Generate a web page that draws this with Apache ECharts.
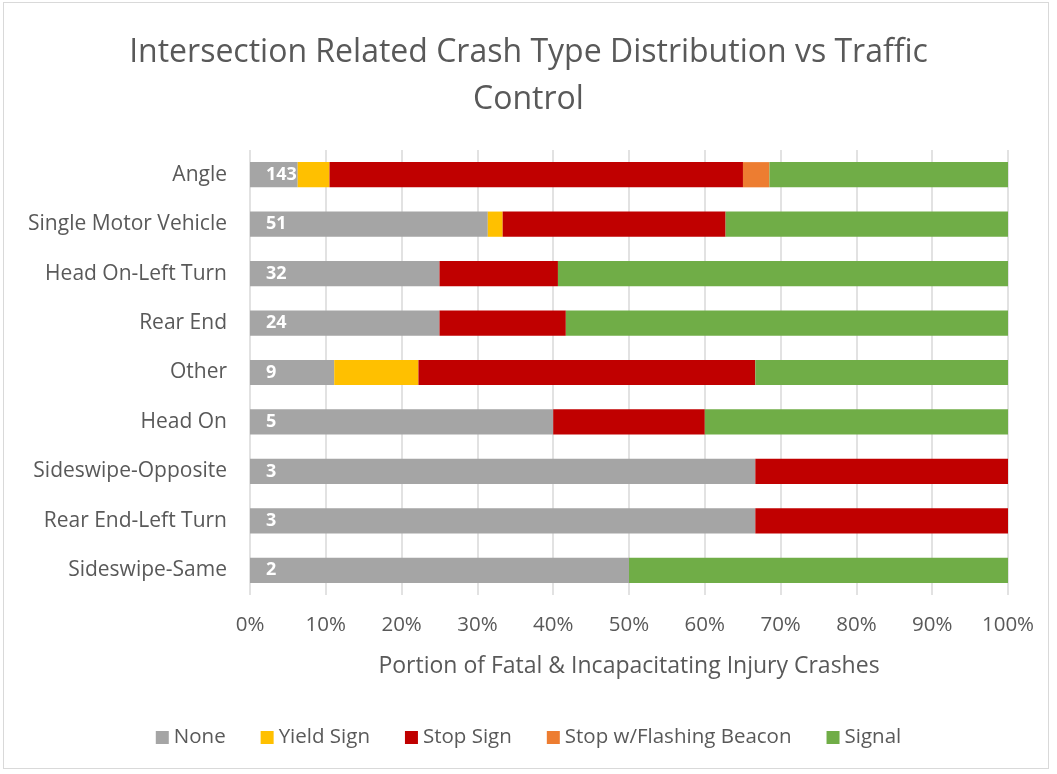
<!DOCTYPE html>
<html>
<head>
<meta charset="utf-8">
<script src="https://cdn.jsdelivr.net/npm/echarts@6/dist/echarts.min.js"></script>
<style>
  html, body { margin: 0; padding: 0; background: #fff; }
  #frame { position: absolute; left: 3px; top: 2px; width: 1046px; height: 767px; border: 1px solid #d9d9d9; box-sizing: border-box; }
  #chart { position: absolute; left: 0; top: 0; width: 1057px; height: 774px; }
</style>
</head>
<body>
<div id="frame"></div>
<div id="chart"></div>
<script>
// crash types (top to bottom)
const crashTypes = ['Angle', 'Single Motor Vehicle', 'Head On-Left Turn', 'Rear End', 'Other',
  'Head On', 'Sideswipe-Opposite', 'Rear End-Left Turn', 'Sideswipe-Same']

// crash counts by traffic control
const noneCounts = [9, 16, 8, 6, 1, 2, 2, 2, 1]
const yieldCounts = [6, 1, 0, 0, 1, 0, 0, 0, 0]
const stopCounts = [78, 15, 5, 4, 4, 1, 1, 1, 0]
const beaconCounts = [5, 0, 0, 0, 0, 0, 0, 0, 0]
const signalCounts = [45, 19, 19, 14, 3, 2, 0, 0, 1]

const xTicks = [0, 10, 20, 30, 40, 50, 60, 70, 80, 90, 100]

const totals = crashTypes.map((c, i) =>
  noneCounts[i] + yieldCounts[i] + stopCounts[i] + beaconCounts[i] + signalCounts[i])
const pct = arr => arr.map((v, i) => v / totals[i] * 100)

const font = '"Open Sans", sans-serif'
const textColor = '#595959'

const chart = echarts.init(document.getElementById('chart'))

function bar(name, counts, color, withLabel) {
  return {
    name: name,
    type: 'bar',
    stack: 'all',
    barCategoryGap: '49%',
    data: pct(counts),
    itemStyle: { color: color },
    label: withLabel ? {
      show: true,
      position: 'insideLeft',
      distance: 16,
      formatter: p => totals[p.dataIndex],
      color: '#fff',
      fontWeight: 'bold',
      fontSize: 18,
      fontFamily: font
    } : { show: false },
    emphasis: { disabled: true }
  }
}

chart.setOption({
  animation: false,
  title: {
    text: 'Intersection Related Crash Type Distribution vs Traffic\nControl',
    left: 'center',
    top: 24,
    padding: [5, 0, 5, 28],
    textStyle: {
      color: textColor,
      fontSize: 32,
      fontWeight: 'normal',
      fontFamily: font,
      lineHeight: 47
    }
  },
  legend: {
    bottom: 21,
    left: 'center',
    icon: 'rect',
    itemWidth: 13,
    itemHeight: 13,
    itemGap: 35,
    textStyle: { color: textColor, fontSize: 20.5, fontFamily: font }
  },
  grid: { left: 250, right: 49, top: 150, bottom: 179 },
  xAxis: {
    type: 'value',
    min: 0,
    max: 100,
    interval: 10,
    name: 'Portion of Fatal & Incapacitating Injury Crashes',
    nameLocation: 'middle',
    nameGap: 60,
    nameTextStyle: { color: textColor, fontSize: 23, fontFamily: font },
    axisLabel: {
      formatter: v => xTicks.includes(v) ? v + '%' : '',
      color: textColor,
      fontSize: 20.5,
      fontFamily: font,
      margin: 20
    },
    axisLine: { show: false },
    axisTick: { show: false },
    splitLine: { lineStyle: { color: '#d9d9d9', width: 1.5 } }
  },
  yAxis: {
    type: 'category',
    inverse: true,
    data: crashTypes,
    axisLabel: { color: textColor, fontSize: 21, fontFamily: font, margin: 23 },
    axisLine: { show: false },
    axisTick: { show: false }
  },
  series: [
    bar('None', noneCounts, '#a5a5a5', true),
    bar('Yield Sign', yieldCounts, '#ffc000'),
    bar('Stop Sign', stopCounts, '#c00000'),
    bar('Stop w/Flashing Beacon', beaconCounts, '#ed7d31'),
    bar('Signal', signalCounts, '#70ad47')
  ]
})
</script>
</body>
</html>
